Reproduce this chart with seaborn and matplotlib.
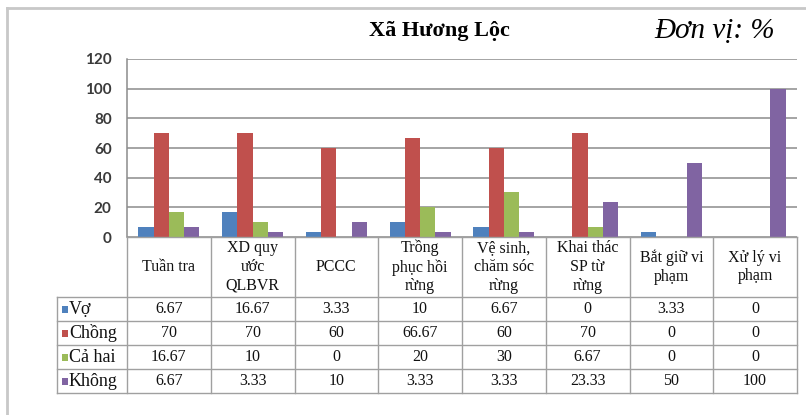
import matplotlib
matplotlib.use("Agg")
import matplotlib.pyplot as plt
from matplotlib.lines import Line2D
from matplotlib.patches import Rectangle
import seaborn as sns
import pandas as pd

# --- data -------------------------------------------------------------
categories = ["Tuần tra", "XD quy\nước\nQLBVR", "PCCC", "Trồng\nphục hồi\nrừng",
              "Vệ sinh,\nchăm sóc\nrừng", "Khai thác\nSP từ\nrừng",
              "Bắt giữ vi\nphạm", "Xử lý vi\nphạm"]
series_names = ["Vợ", "Chồng", "Cả hai", "Không"]
vo = [6.67, 16.67, 3.33, 10, 6.67, 0, 3.33, 0]
chong = [70, 70, 60, 66.67, 60, 70, 0, 0]
ca_hai = [16.67, 10, 0, 20, 30, 6.67, 0, 0]
khong = [6.67, 3.33, 10, 3.33, 3.33, 23.33, 50, 100]
y_ticks = [0, 20, 40, 60, 80, 100, 120]

colors = ["#4F81BD", "#C0504D", "#9BBB59", "#8064A2"]

values = [vo, chong, ca_hai, khong]
df = pd.DataFrame(
    [(c, s, v) for s, vals in zip(series_names, values) for c, v in zip(categories, vals)],
    columns=["cat", "series", "val"],
)

# --- figure -----------------------------------------------------------
W, H = 806, 415
fig = plt.figure(figsize=(W / 100, H / 100), dpi=100)
fig.patch.set_facecolor("white")

serif = ["Liberation Serif", "DejaVu Serif"]

# chart frame
fig.add_artist(Line2D([7 / W, 7 / W], [0, 1 - 8 / H], color="#C8C8C8", lw=2))
fig.add_artist(Line2D([7 / W, 1], [1 - 8 / H, 1 - 8 / H], color="#C8C8C8", lw=2))

ax = fig.add_axes([127 / W, 178 / H, 670 / W, 178 / H])
sns.barplot(data=df, x="cat", y="val", hue="series", order=categories,
            hue_order=series_names, palette=colors, width=0.73, gap=0,
            saturation=1, legend=False, ax=ax)
ax.set_xlim(-0.5, 7.5)
ax.set_ylim(0, 120)
ax.set_yticks(y_ticks)
ax.set_yticklabels([str(t) for t in y_ticks], fontfamily="Lato",
                   fontweight="bold", fontsize=11, color="#3A3A3A")
ax.tick_params(axis="y", length=0, pad=11)
ax.tick_params(axis="x", length=0, labelbottom=False)
ax.set_xlabel("")
ax.set_ylabel("")
ax.grid(axis="y", color="#8C8C8C", lw=1.1)
ax.set_axisbelow(True)
for side in ["top", "right", "bottom"]:
    ax.spines[side].set_visible(False)
ax.spines["left"].set_color("#8C8C8C")
ax.spines["left"].set_linewidth(1.1)
ax.set_facecolor("white")
for p in ax.patches:
    p.set_linewidth(0)

# title and unit note
fig.text(439 / W, 1 - 31 / H, "Xã Hương Lộc", ha="center", va="center",
         fontfamily=serif, fontweight="bold", fontsize=16)
fig.text(715 / W, 1 - 31 / H, "Đơn vị: %", ha="center", va="center",
         fontfamily=serif, fontstyle="italic", fontsize=21)

# --- data table under the plot ---------------------------------------
tab = fig.add_axes([127 / W, 22 / H, 670 / W, 156 / H])
tab.set_xlim(-0.5, 7.5)
tab.set_ylim(156, 0)
tab.axis("off")

px = 670 / 8.0  # pixels per category
leg_left = -0.5 - 70 / px
lc, lw = "#A0A0A0", 1.0
header_h, row_h = 60, 24
row_tops = [header_h + row_h * i for i in range(len(series_names) + 1)]

tab.plot([-0.5, 7.5], [0, 0], color=lc, lw=lw, clip_on=False)
for y in row_tops:
    tab.plot([leg_left, 7.5], [y, y], color=lc, lw=lw, clip_on=False)
for i in range(len(categories) + 1):
    tab.plot([i - 0.5, i - 0.5], [0, row_tops[-1]], color=lc, lw=lw, clip_on=False)
tab.plot([leg_left, leg_left], [header_h, row_tops[-1]], color=lc, lw=lw, clip_on=False)

for i, c in enumerate(categories):
    tab.text(i, header_h / 2, c, ha="center", va="center", fontfamily=serif,
             fontsize=11.5, linespacing=1.22, color="#111111")

for r, (name, vals, col) in enumerate(zip(series_names, values, colors)):
    yc = row_tops[r] + row_h / 2
    tab.add_patch(Rectangle((leg_left + 5 / px, yc - 3.5), 6 / px, 7,
                            facecolor=col, edgecolor="none", clip_on=False))
    tab.text(leg_left + 12 / px, yc, name, ha="left", va="center",
             fontfamily=serif, fontsize=13, color="#111111", clip_on=False)
    for i, v in enumerate(vals):
        tab.text(i, yc, f"{v:g}", ha="center", va="center", fontfamily=serif,
                 fontsize=11.5, color="#111111")

fig.savefig("out.png", dpi=100, facecolor="white")
